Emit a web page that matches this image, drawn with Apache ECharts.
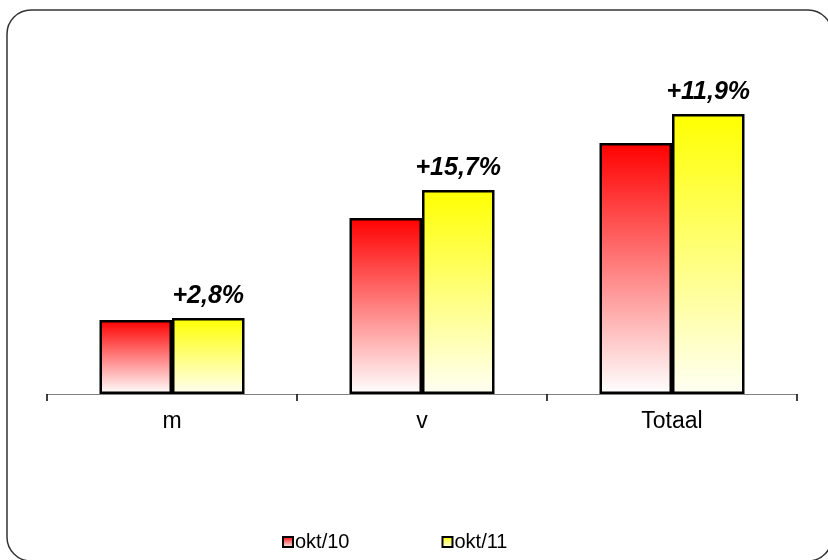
<!DOCTYPE html>
<html>
<head>
<meta charset="utf-8">
<script src="https://cdn.jsdelivr.net/npm/echarts@6/dist/echarts.min.js"></script>
<style>
html,body{margin:0;padding:0;background:#fff;}
#chart{width:828px;height:560px;}
</style>
</head>
<body>
<div id="chart"></div>
<script>
var categories = ['m', 'v', 'Totaal'];
var seriesNames = ['okt/10', 'okt/11'];
var okt10 = [74, 176, 251];
var okt11 = [76, 204, 280];
var changeLabels = ['+2,8%', '+15,7%', '+11,9%'];

function grad(c1, c2) {
  return new echarts.graphic.LinearGradient(0, 0, 0, 1, [
    {offset: 0, color: c1},
    {offset: 1, color: c2}
  ]);
}

var chart = echarts.init(document.getElementById('chart'));
chart.setOption({
  animation: false,
  backgroundColor: '#fff',
  textStyle: {fontFamily: 'Liberation Sans, Arial, sans-serif'},
  graphic: [{
    type: 'rect',
    shape: {x: 7, y: 10, width: 825, height: 551, r: 24},
    style: {fill: 'none', stroke: '#333', lineWidth: 1.5},
    silent: true,
    z: -1
  }],
  grid: {left: 47, right: 31, top: 94, bottom: 166},
  legend: {
    bottom: 3,
    left: 277,
    itemWidth: 10,
    itemHeight: 10,
    itemGap: 92,
    icon: 'rect',
    textStyle: {fontSize: 20, color: '#000', fontFamily: 'Liberation Sans, Arial, sans-serif', padding: [0, 0, 0, -3]},
    data: seriesNames
  },
  xAxis: {
    type: 'category',
    data: categories,
    axisLine: {lineStyle: {color: '#808080', width: 1}},
    axisTick: {show: true, length: 7, lineStyle: {color: '#000', width: 1.5}},
    axisLabel: {fontSize: 23, color: '#000', margin: 16}
  },
  yAxis: {
    type: 'value',
    min: 0,
    max: 300,
    show: false,
    splitLine: {show: false}
  },
  series: [{
    name: seriesNames[0],
    type: 'bar',
    data: okt10,
    barGap: '0%',
    barCategoryGap: '42%',
    itemStyle: {color: grad('#ff0000', '#ffffff'), borderColor: '#000', borderWidth: 2.5}
  }, {
    name: seriesNames[1],
    type: 'bar',
    data: okt11,
    barGap: '0%',
    barCategoryGap: '42%',
    itemStyle: {color: grad('#ffff00', '#fffff4'), borderColor: '#000', borderWidth: 2.5},
    label: {
      show: true,
      position: 'top',
      distance: 9,
      formatter: function (p) { return changeLabels[p.dataIndex]; },
      fontSize: 25,
      fontWeight: 'bold',
      fontStyle: 'italic',
      color: '#000'
    }
  }]
});
</script>
</body>
</html>
